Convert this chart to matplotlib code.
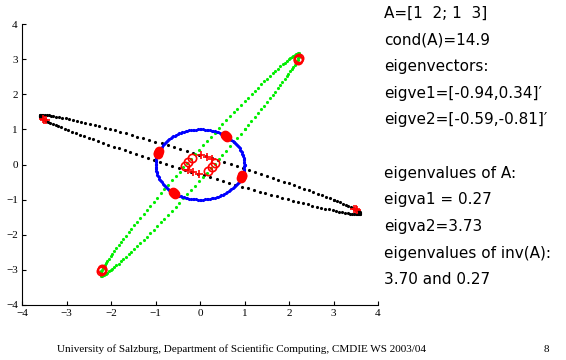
import numpy as np
import matplotlib
matplotlib.use("Agg")
import matplotlib.pyplot as plt

# matrix from the slide and its eigen data
A = [[1, 2], [1, 3]]
eigve1 = [-0.94, 0.34]
eigve2 = [-0.59, -0.81]
# small angle offsets around each eigenvector (the marker clusters)
offsets = [-0.035, 0.0, 0.035]
n_pts = 160

info_lines = ["A=[1  2; 1  3]", "cond(A)=14.9", "eigenvectors:",
              "eigve1=[-0.94,0.34]\u2032", "eigve2=[-0.59,-0.81]\u2032", "",
              "eigenvalues of A:", "eigva1 = 0.27", "eigva2=3.73",
              "eigenvalues of inv(A):", "3.70 and 0.27"]
footer = "University of Salzburg, Department of Scientific Computing, CMDIE WS 2003/04"
page = "8"

M = np.array(A, dtype=float)
Minv = np.linalg.inv(M)
t = np.linspace(0, 2 * np.pi, n_pts)
circ = np.vstack([np.cos(t), np.sin(t)])
img = M @ circ
inv_img = Minv @ circ

fig = plt.figure(figsize=(5.66, 3.6), dpi=100)
ax = fig.add_axes([22 / 566, 1 - 305 / 360, 356 / 566, 281 / 360])
ax.plot(inv_img[0], inv_img[1], ".", color="black", ms=2.5)
ax.plot(img[0], img[1], ".", color="#00ee00", ms=2.5)
ax.plot(circ[0], circ[1], ".", color="#0000ff", ms=2.5)

for v in (eigve1, eigve2):
    base = np.arctan2(v[1], v[0])
    for sgn in (1, -1):
        ang = base + (0 if sgn == 1 else np.pi) + np.array(offsets)
        pts = np.vstack([np.cos(ang), np.sin(ang)])
        ax.plot(pts[0], pts[1], "o", color="red", ms=6, mec="red")
        a_pts = M @ pts
        ax.plot(a_pts[0], a_pts[1], "o", mfc="none", mec="red", ms=6, mew=1.2)
        i_pts = Minv @ pts
        ax.plot(i_pts[0], i_pts[1], "+", color="red", ms=6, mew=1.2)

ax.set_xlim(-4, 4)
ax.set_ylim(-4, 4)
ax.set_xticks(range(-4, 5))
ax.set_yticks(range(-4, 5))
for s in ("top", "right"):
    ax.spines[s].set_visible(False)
ax.tick_params(direction="in", length=3, labelsize=8, pad=3)
for lbl in ax.get_xticklabels() + ax.get_yticklabels():
    lbl.set_family("Liberation Serif")

y = 13
for line in info_lines:
    fig.text(384 / 566, 1 - y / 360, line, fontsize=11, family="DejaVu Sans",
             va="center", ha="left", color="black")
    y += 26.7

fig.text(57 / 566, 1 - 349 / 360, footer, fontsize=8, family="Liberation Serif",
         va="center", ha="left")
fig.text(546 / 566, 1 - 349 / 360, page, fontsize=8, family="Liberation Serif",
         va="center", ha="center")

fig.savefig("out.png", dpi=100, facecolor="white")
